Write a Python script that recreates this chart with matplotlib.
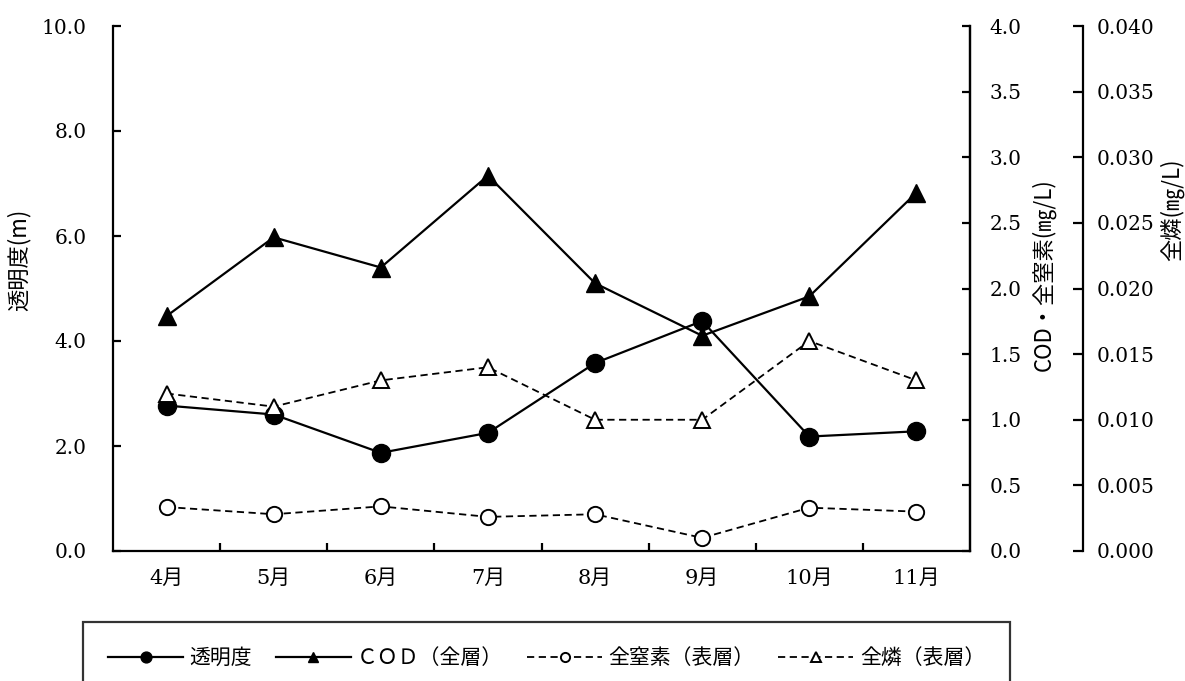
import matplotlib
matplotlib.use('Agg')
import matplotlib.pyplot as plt

plt.rcParams['font.family'] = ['DejaVu Serif', 'Noto Sans CJK JP']

months = ['4月', '5月', '6月', '7月', '8月', '9月', '10月', '11月']
toumeido = [2.77, 2.60, 1.87, 2.25, 3.58, 4.38, 2.18, 2.28]   # m
cod = [1.79, 2.39, 2.16, 2.86, 2.04, 1.64, 1.94, 2.73]        # mg/L
tn = [0.335, 0.28, 0.34, 0.26, 0.28, 0.10, 0.33, 0.30]        # mg/L
tp = [0.012, 0.011, 0.013, 0.014, 0.010, 0.010, 0.016, 0.013]  # mg/L

labels = ['透明度', 'ＣＯＤ（全層）', '全窒素（表層）', '全燐（表層）']
jp = ['Noto Sans CJK JP', 'DejaVu Sans']

fig = plt.figure(figsize=(11.85, 6.81), dpi=100)
ax = fig.add_axes([113 / 1185, 1 - 551 / 681, 857 / 1185, 525 / 681])
ax2 = ax.twinx()
ax3 = ax.twinx()

x = list(range(len(months)))
dash = (0, (4, 2.5))

l1, = ax.plot(x, toumeido, color='black', lw=1.6, marker='o', ms=13,
              mfc='black', mec='black', label=labels[0])
l2, = ax2.plot(x, cod, color='black', lw=1.6, marker='^', ms=12.5,
               mfc='black', mec='black', label=labels[1])
l3, = ax2.plot(x, tn, color='black', lw=1.3, ls=dash, marker='o', ms=11,
               mfc='white', mec='black', mew=1.4, label=labels[2])
l4, = ax3.plot(x, tp, color='black', lw=1.3, ls=dash, marker='^', ms=11,
               mfc='white', mec='black', mew=1.4, label=labels[3])

for a in (ax, ax2, ax3):
    a.spines['top'].set_visible(False)
    for s in a.spines.values():
        s.set_linewidth(1.6)

ax.set_xlim(-0.5, len(months) - 0.5)
ax.set_xticks(x)
ax.set_xticklabels(months, fontsize=15)
ax.set_xticks([i + 0.5 for i in x[:-1]], minor=True)
ax.tick_params(axis='x', which='major', length=0, pad=13)
ax.tick_params(axis='x', which='minor', direction='in', length=6, width=1.6)

ax.set_ylim(0, 10)
ax.set_yticks([0, 2, 4, 6, 8, 10])
ax.set_yticklabels(['%.1f' % v for v in [0, 2, 4, 6, 8, 10]])
ax.tick_params(axis='y', direction='in', length=6, width=1.6, pad=19, labelsize=14.5)
ax.set_ylabel('透明度(m)', family=jp, fontsize=16)
ax.yaxis.set_label_coords(-0.096, 0.555)

ax2.set_ylim(0, 4)
ax2.set_yticks([i * 0.5 for i in range(9)])
ax2.set_yticklabels(['%.1f' % (i * 0.5) for i in range(9)])
ax2.tick_params(axis='y', direction='in', length=6, width=1.6, pad=14, labelsize=14.5)
ax2.spines['left'].set_visible(False)
ax2.spines['bottom'].set_visible(False)
ax2.set_ylabel('COD・全窒素(㎎/L)', family=jp, fontsize=16)
ax2.yaxis.set_label_coords(1.072, 0.526)

ax3.set_ylim(0, 0.04)
ax3.set_yticks([i * 0.005 for i in range(9)])
ax3.set_yticklabels(['%.3f' % (i * 0.005) for i in range(9)])
ax3.spines['right'].set_position(('axes', 1.132))
ax3.spines['left'].set_visible(False)
ax3.spines['bottom'].set_visible(False)
ax3.tick_params(axis='y', direction='in', length=7, width=1.6, pad=10, labelsize=14.5)
ax3.set_ylabel('全燐(㎎/L)', family=jp, fontsize=16)
ax3.yaxis.set_label_coords(1.221, 0.65)

leg = fig.legend(handles=[l1, l2, l3, l4], loc='upper left',
                 bbox_to_anchor=(83 / 1185, 1 - 622 / 681 - 0.2, 927 / 1185, 0.2),
                 mode='expand', borderaxespad=0, ncol=4,
                 prop={'family': jp, 'size': 15}, frameon=True, fancybox=False,
                 edgecolor='black', borderpad=1.2, handlelength=3.6,
                 handletextpad=0.3, columnspacing=0.5, markerscale=0.6)
leg.get_frame().set_linewidth(1.6)

fig.savefig('out.png', dpi=100)
